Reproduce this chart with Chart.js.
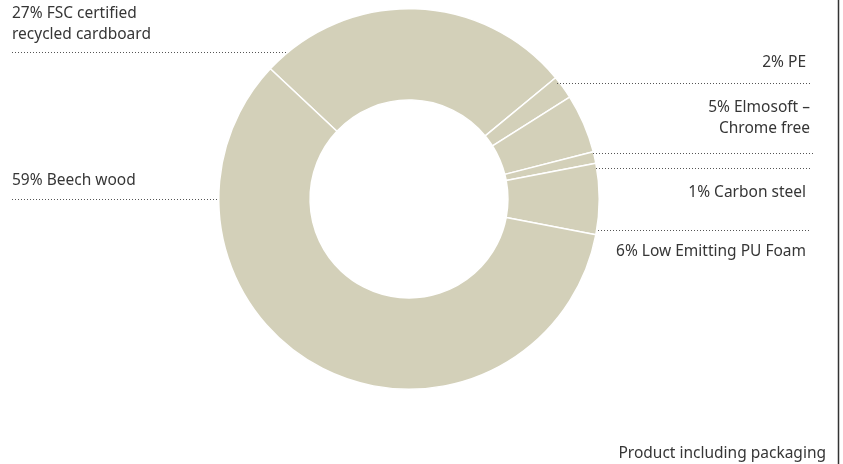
<!DOCTYPE html>
<html>
<head>
<meta charset="utf-8">
<script src="https://cdn.jsdelivr.net/npm/chart.js@4"></script>
<style>
html,body{margin:0;padding:0;background:#fff;}
#wrap{position:relative;width:843px;height:464px;}
canvas{display:block;}
</style>
</head>
<body>
<div id="wrap"><canvas id="c" width="843" height="464"></canvas></div>
<script>
const categories = ["27% FSC certified recycled cardboard", "2% PE", "5% Elmosoft – Chrome free", "1% Carbon steel", "6% Low Emitting PU Foam", "59% Beech wood"];
const values = [27, 2, 5, 1, 6, 59];
const labelLines = [
  ["27% FSC certified", "recycled cardboard"],
  ["2% PE"],
  ["5% Elmosoft –", "Chrome free"],
  ["1% Carbon steel"],
  ["6% Low Emitting PU Foam"],
  ["59% Beech wood"]
];
const footnote = "Product including packaging";

const FONT = '15.5px "Noto Sans", sans-serif';
const TEXT = '#363636';

// label layout: text anchor, alignment, and dotted leader line
const layout = [
  {x:12, y:[14,35], align:'left', line:{y:52, x1:12, x2:287}},
  {x:806, y:[63], align:'right', line:{y:83, x1:557, x2:810}},
  {x:810, y:[108,129], align:'right', line:{y:153, x1:593, x2:813}},
  {x:806, y:[193], align:'right', line:{y:168, x1:596, x2:810}},
  {x:806, y:[252], align:'right', line:{y:230, x1:598, x2:810}},
  {x:12, y:[181], align:'left', line:{y:199, x1:12, x2:219}}
];

const annot = {
  id:'annot',
  afterDraw(chart){
    const ctx = chart.ctx;
    ctx.save();
    ctx.font = FONT;
    ctx.fillStyle = TEXT;
    ctx.textBaseline = 'middle';
    labelLines.forEach((lines,i)=>{
      const L = layout[i];
      ctx.textAlign = L.align;
      lines.forEach((t,j)=>ctx.fillText(t, L.x, L.y[j]));
      ctx.strokeStyle = '#555';
      ctx.lineWidth = 1;
      ctx.setLineDash([1,2]);
      ctx.beginPath();
      ctx.moveTo(L.line.x1, L.line.y+0.5);
      ctx.lineTo(L.line.x2, L.line.y+0.5);
      ctx.stroke();
    });
    ctx.setLineDash([]);
    ctx.textAlign = 'right';
    ctx.fillText(footnote, 826, 454);
    ctx.strokeStyle = '#333';
    ctx.lineWidth = 1.5;
    ctx.beginPath();
    ctx.moveTo(838.5, 0);
    ctx.lineTo(838.5, 464);
    ctx.stroke();
    ctx.restore();
  }
};

new Chart(document.getElementById('c'), {
  type:'doughnut',
  data:{
    labels: categories,
    datasets:[{
      data: values,
      backgroundColor:'#d3d0b9',
      borderColor:'#ffffff',
      borderWidth:1.5,
      hoverOffset:0
    }]
  },
  options:{
    responsive:false,
    animation:false,
    rotation:-46.8,
    cutout:'52%',
    layout:{padding:{left:218, right:243, top:8, bottom:74}},
    plugins:{legend:{display:false}, tooltip:{enabled:false}}
  },
  plugins:[annot]
});
</script>
</body>
</html>
